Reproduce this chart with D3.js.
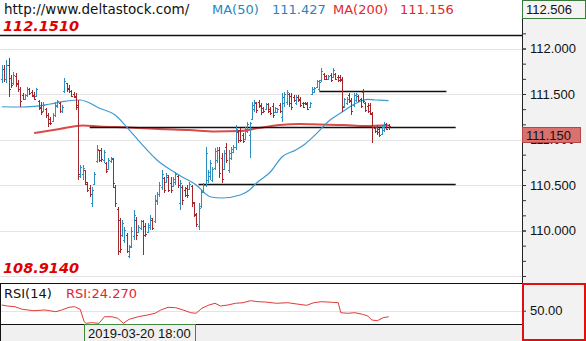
<!DOCTYPE html>
<html lang="en">
<head>
<meta charset="UTF-8">
<title>USDJPY bars</title>
<script src="https://d3js.org/d3.v7.min.js"></script>
<style>
    body { margin: 0; background: #fff; }
    svg { display: block; }
    .hdr { font-family: "DejaVu Sans", Verdana, sans-serif; font-size: 13px; }
    .ax text { font-family: "Liberation Sans", Arial, sans-serif; font-size: 13px; fill: #111; }
</style>
</head>
<body>
<div id="chart"></div>
<script>
// OHLC bars (one per bar, left to right)
const opens = [111.66,111.78,111.66,111.82,111.68,111.62,111.70,111.62,111.55,111.49,
111.45,111.49,111.55,111.52,111.49,111.48,111.42,111.36,111.31,111.34,
111.27,111.22,111.20,111.27,111.37,111.40,111.31,111.53,111.62,111.57,
111.53,111.50,111.48,111.38,110.60,110.62,110.66,110.51,110.47,110.30,
110.51,110.76,110.88,110.88,110.77,110.74,110.68,110.76,110.79,110.48,
110.24,110.12,109.95,109.90,109.95,109.72,109.83,109.94,110.12,109.98,
110.03,110.10,110.05,109.98,110.04,110.12,110.10,110.32,110.40,110.48,
110.58,110.53,110.59,110.52,110.49,110.53,110.60,110.30,110.48,110.45,
110.47,110.46,110.49,110.30,110.17,110.05,110.27,110.43,110.50,110.55,
110.60,110.56,110.69,110.77,110.89,110.80,110.68,110.92,110.66,110.80,
110.86,110.92,111.08,111.10,111.05,111.01,111.09,111.05,111.23,111.33,
111.40,111.41,111.38,111.35,111.33,111.39,111.34,111.37,111.30,111.30,
111.38,111.25,111.40,111.41,111.50,111.48,111.47,111.40,111.47,111.45,
111.40,111.40,111.40,111.36,111.50,111.52,111.58,111.56,111.65,111.72,
111.70,111.66,111.71,111.69,111.72,111.69,111.69,111.66,111.37,111.40,
111.49,111.43,111.38,111.43,111.48,111.44,111.52,111.40,111.37,111.38,
111.28,111.13,111.14,111.11,111.06,111.10,111.17,111.16];
const highs = [111.82,111.82,111.87,111.90,111.71,111.74,111.73,111.65,111.58,111.51,
111.50,111.58,111.57,111.54,111.52,111.57,111.43,111.41,111.41,111.35,
111.29,111.25,111.29,111.41,111.43,111.41,111.38,111.68,111.62,111.60,
111.54,111.52,111.51,111.43,110.72,110.72,110.67,110.53,110.50,110.48,
110.64,110.94,110.89,110.91,110.89,110.75,110.80,110.81,110.80,110.50,
110.26,110.14,110.12,110.04,109.97,109.84,110.04,110.23,110.15,110.06,
110.12,110.12,110.08,110.08,110.17,110.14,110.39,110.42,110.53,110.67,
110.59,110.63,110.61,110.59,110.59,110.64,110.61,110.56,110.50,110.48,
110.50,110.53,110.50,110.31,110.19,110.30,110.45,110.52,110.92,110.67,
110.78,110.70,110.91,110.92,110.92,110.85,110.89,110.96,110.89,110.92,
110.94,111.16,111.10,111.13,111.07,111.14,111.19,111.19,111.41,111.43,
111.41,111.43,111.40,111.36,111.40,111.40,111.36,111.40,111.36,111.35,
111.40,111.51,111.52,111.54,111.51,111.51,111.49,111.49,111.49,111.47,
111.41,111.41,111.41,111.41,111.58,111.58,111.65,111.65,111.79,111.73,
111.71,111.71,111.73,111.79,111.73,111.71,111.71,111.69,111.46,111.47,
111.51,111.46,111.51,111.51,111.49,111.46,111.56,111.41,111.40,111.40,
111.30,111.14,111.16,111.13,111.16,111.19,111.18,111.17];
const lows = [111.62,111.63,111.62,111.47,111.57,111.60,111.58,111.52,111.36,111.43,
111.43,111.47,111.49,111.47,111.43,111.47,111.32,111.27,111.30,111.24,
111.14,111.16,111.19,111.25,111.35,111.29,111.29,111.51,111.52,111.51,
111.47,111.46,111.32,110.56,110.58,110.56,110.50,110.42,110.37,110.26,
110.50,110.74,110.75,110.75,110.74,110.63,110.67,110.74,110.47,110.26,
109.73,109.75,109.93,109.86,109.75,109.70,109.81,109.90,109.90,109.97,
110.01,109.73,109.93,109.97,110.01,110.01,110.08,110.28,110.37,110.45,
110.41,110.52,110.42,110.41,110.48,110.50,110.47,110.23,110.28,110.37,
110.36,110.45,110.26,110.15,110.04,110.01,110.25,110.41,110.48,110.52,
110.56,110.53,110.67,110.74,110.58,110.52,110.67,110.74,110.63,110.78,
110.85,110.89,110.96,110.97,110.96,111.00,111.07,110.80,111.21,111.30,
111.29,111.35,111.27,111.29,111.32,111.29,111.27,111.24,111.29,111.29,
111.29,111.19,111.36,111.38,111.36,111.32,111.41,111.38,111.41,111.36,
111.35,111.38,111.32,111.35,111.49,111.51,111.57,111.52,111.63,111.65,
111.65,111.65,111.63,111.68,111.65,111.63,111.63,111.30,111.35,111.38,
111.40,111.27,111.36,111.41,111.41,111.35,111.40,111.30,111.29,111.27,
110.96,111.07,111.05,111.03,111.05,111.08,111.10,111.10];
const closes = [111.78,111.67,111.82,111.55,111.60,111.71,111.61,111.55,111.42,111.45,
111.49,111.55,111.51,111.48,111.45,111.55,111.35,111.30,111.38,111.27,
111.18,111.18,111.27,111.38,111.42,111.31,111.36,111.64,111.55,111.53,
111.48,111.47,111.36,110.62,110.70,110.69,110.53,110.44,110.40,110.45,
110.62,110.90,110.78,110.79,110.86,110.65,110.78,110.80,110.52,110.30,
109.78,109.80,110.08,110.01,109.78,109.82,110.00,110.17,109.95,110.04,
110.10,109.95,109.96,110.06,110.14,110.03,110.34,110.40,110.50,110.62,
110.45,110.61,110.45,110.44,110.57,110.62,110.50,110.52,110.33,110.39,
110.39,110.51,110.31,110.18,110.07,110.25,110.42,110.50,110.85,110.64,
110.74,110.68,110.87,110.89,110.63,110.57,110.85,110.78,110.85,110.90,
110.92,111.12,110.99,111.00,110.98,111.12,111.17,111.18,111.38,111.41,
111.32,111.37,111.30,111.31,111.39,111.31,111.29,111.27,111.35,111.34,
111.31,111.47,111.50,111.52,111.40,111.36,111.43,111.47,111.43,111.38,
111.36,111.39,111.34,111.40,111.56,111.57,111.64,111.63,111.75,111.67,
111.66,111.70,111.65,111.76,111.67,111.65,111.65,111.36,111.44,111.45,
111.42,111.31,111.49,111.50,111.43,111.37,111.42,111.32,111.31,111.29,
111.14,111.09,111.08,111.05,111.14,111.17,111.12,111.15];

// moving averages, read at bar positions
const ma50Idx = [0, 8, 14, 21, 27, 34, 37, 42, 49, 54, 60, 67, 73, 78, 84, 90, 95, 103, 107, 110, 116, 121, 127, 131, 136, 141, 147, 153, 158, 162, 167];
const ma50Val = [111.36, 111.357, 111.363, 111.39, 111.418, 111.434, 111.412, 111.346, 111.269, 111.137, 110.962, 110.775, 110.665, 110.588, 110.50, 110.371, 110.357, 110.39, 110.445, 110.522, 110.643, 110.808, 110.885, 110.951, 111.068, 111.198, 111.302, 111.398, 111.44, 111.434, 111.427];
const ma200Idx = [14, 25, 35, 42, 55, 68, 81, 92, 103, 111, 120, 129, 137, 148, 157, 167];
const ma200Val = [111.071, 111.115, 111.154, 111.143, 111.132, 111.115, 111.104, 111.088, 111.093, 111.126, 111.159, 111.17, 111.165, 111.159, 111.148, 111.156];

// RSI(14)
const rsiIdx = [0, 2.5, 5.7, 8.9, 13.8, 18.6, 23.4, 25.9, 29.1, 31.5, 33.9, 35.6, 36.4, 38.8, 42, 44.4, 47.6, 50.1, 52.5, 55, 59, 63, 66.2, 68.7, 71.8, 75.1, 78.3, 81.6, 83.9, 86.4, 89.5, 92.1, 94.5, 97.7, 100.9, 104.2, 107.4, 110.6, 113.8, 118.7, 123.5, 128.4, 131.6, 134.8, 138, 142.9, 145.3, 146.4, 149.3, 152.5, 155.8, 158.1, 159.8, 162.2, 164.7, 167.1];
const rsiVal = [62.8, 60.5, 59.0, 53.1, 50.0, 51.6, 47.8, 51.6, 57.6, 59.0, 53.1, 25.3, 21.7, 23.1, 21.7, 36.5, 36.5, 33.0, 21.7, 30.7, 36.5, 40.4, 44.2, 51.6, 57.6, 56.7, 51.6, 45.5, 44.2, 55.4, 62.8, 66.6, 60.5, 62.8, 66.6, 67.9, 72.4, 70.2, 69.5, 66.6, 67.9, 64.3, 62.1, 67.9, 70.2, 68.8, 67.9, 45.5, 44.2, 45.5, 41.9, 38.1, 29.1, 27.6, 34.3, 36.5];

// horizontal trend lines: price, start bar, end bar
const hlPrice = [112.151, 111.137, 111.538, 110.51];
const hlFrom = [-2, 38, 137, 85];
const hlTo = [226, 196, 192, 196];

const priceTicks = [110, 110.5, 111, 111.5, 112];
const gridTicks = [109.5, 110, 110.5, 111, 111.5, 112];
const minorTicks = d3.range(109.5, 112.5, 0.5 / 3);
const rsiTicks = [50];

const W = 586, H = 341;
const plotR = 522, priceBot = 283, rsiBot = 324;
const upCol = "#2d8ec2", dnCol = "#a3262c";

const svg = d3.select("#chart").append("svg")
    .attr("width", W).attr("height", H);

const x = d3.scaleLinear().domain([0, closes.length - 1]).range([1.7, 388.5]);
const y = d3.scaleLinear().domain([110, 112]).range([230.5, 48.5]);
const rsiY = d3.scaleLinear().domain([0, 100]).range([333, 288.4]);

svg.append("clipPath").attr("id", "pc").append("rect")
    .attr("x", 0).attr("y", 0).attr("width", plotR).attr("height", priceBot);
svg.append("clipPath").attr("id", "rc").append("rect")
    .attr("x", 0).attr("y", priceBot).attr("width", plotR).attr("height", rsiBot - priceBot);

// gridlines
const price = svg.append("g").attr("clip-path", "url(#pc)");
price.selectAll(".grid").data(gridTicks).join("line")
    .attr("x1", 0).attr("x2", plotR)
    .attr("y1", d => Math.round(y(d)) + 0.5).attr("y2", d => Math.round(y(d)) + 0.5)
    .attr("stroke", "#e4e4e4");

// MA lines
const ma200 = d3.zip(ma200Idx, ma200Val);
price.append("path").datum(ma200)
    .attr("fill", "none").attr("stroke", "#de4a4a").attr("stroke-width", 2)
    .attr("d", d3.line().x(d => x(d[0])).y(d => y(d[1])).curve(d3.curveMonotoneX));

// horizontal lines
price.selectAll(".hl").data(hlPrice).join("line")
    .attr("x1", (d, i) => x(hlFrom[i])).attr("x2", (d, i) => x(hlTo[i]))
    .attr("y1", d => Math.round(y(d)) + 0.5).attr("y2", d => Math.round(y(d)) + 0.5)
    .attr("stroke", "#111").attr("stroke-width", 1.3);

const ma50 = d3.zip(ma50Idx, ma50Val);
price.append("path").datum(ma50)
    .attr("fill", "none").attr("stroke", "#3f9ad0").attr("stroke-width", 1.2)
    .attr("d", d3.line().x(d => x(d[0])).y(d => y(d[1])).curve(d3.curveMonotoneX));

// OHLC bars
price.selectAll(".bar").data(closes).join("path")
    .attr("fill", "none")
    .attr("stroke", (c, i) => c >= opens[i] ? upCol : dnCol)
    .attr("stroke-width", 1)
    .attr("shape-rendering", "crispEdges")
    .attr("d", (c, i) => {
        const xi = Math.round(x(i)) + 0.5;
        return `M${xi},${y(highs[i])}V${y(lows[i])}` +
            `M${xi - 1.5},${Math.round(y(opens[i])) + 0.5}H${xi}` +
            `M${xi},${Math.round(y(c)) + 0.5}H${xi + 1.5}`;
    });

// RSI pane
const rsi = svg.append("g").attr("clip-path", "url(#rc)");
rsi.selectAll(".rg").data(rsiTicks).join("line")
    .attr("x1", 0).attr("x2", plotR)
    .attr("y1", d => Math.round(rsiY(d)) + 0.5).attr("y2", d => Math.round(rsiY(d)) + 0.5)
    .attr("stroke", "#e4e4e4");
rsi.append("path").datum(d3.zip(rsiIdx, rsiVal))
    .attr("fill", "none").attr("stroke", "#e23a3a").attr("stroke-width", 1)
    .attr("d", d3.line().x(d => x(d[0])).y(d => rsiY(d[1])));

// pane borders
svg.append("line").attr("x1", 0).attr("x2", plotR).attr("y1", priceBot + 0.5).attr("y2", priceBot + 0.5).attr("stroke", "#111");
svg.append("rect").attr("x", 0).attr("y", rsiBot).attr("width", plotR).attr("height", H - rsiBot).attr("fill", "#f0f0f0");
svg.append("line").attr("x1", 0).attr("x2", plotR).attr("y1", rsiBot + 0.5).attr("y2", rsiBot + 0.5).attr("stroke", "#111");
svg.append("line").attr("x1", 0.5).attr("x2", 0.5).attr("y1", priceBot).attr("y2", H).attr("stroke", "#111");

// date label on time axis
svg.append("rect").attr("x", 84.5).attr("y", rsiBot + 0.5).attr("width", 111).attr("height", 17)
    .attr("fill", "#f0f0f0").attr("stroke", "#3f8a3f");
svg.append("text").attr("x", 88).attr("y", 338)
    .attr("font-family", "Liberation Sans, Arial, sans-serif").attr("font-size", 13).attr("fill", "#111")
    .text("2019-03-20 18:00");

// right axis
svg.append("rect").attr("x", plotR).attr("y", 0).attr("width", W - plotR).attr("height", H).attr("fill", "#f2f2f2");
svg.append("line").attr("x1", plotR + 0.5).attr("x2", plotR + 0.5).attr("y1", 0).attr("y2", H).attr("stroke", "#222");

const axG = svg.append("g").attr("class", "ax").attr("transform", `translate(${plotR},0)`);
axG.call(d3.axisRight(y).tickValues(minorTicks.filter(d => y(d) > 20 && y(d) < priceBot)).tickSize(4).tickFormat(""));
axG.append("g").call(d3.axisRight(y).tickValues(priceTicks).tickSize(4).tickPadding(4).tickFormat(d3.format(".3f")));
axG.selectAll(".domain").remove();
axG.selectAll("line").attr("stroke", "#333");

// top-of-range label
svg.append("rect").attr("x", plotR + 0.5).attr("y", 0.5).attr("width", W - plotR - 1).attr("height", 18)
    .attr("fill", "#f4f4f4").attr("stroke", "#3a7a3a");
svg.append("text").attr("x", plotR + 4).attr("y", 14)
    .attr("font-family", "Liberation Sans, Arial, sans-serif").attr("font-size", 13).attr("fill", "#111")
    .text("112.506");

// last price marker
const last = closes[closes.length - 1];
svg.append("rect").attr("x", plotR + 0.5).attr("y", Math.round(y(last)) + 1.5).attr("width", 58).attr("height", 15)
    .attr("fill", "#d9726f").attr("stroke", "#b84545");
svg.append("text").attr("x", plotR + 4).attr("y", Math.round(y(last)) + 13.5)
    .attr("font-family", "Liberation Sans, Arial, sans-serif").attr("font-size", 13).attr("fill", "#111")
    .text(d3.format(".3f")(last));

// RSI axis box
const rAx = svg.append("g").attr("class", "ax").attr("transform", `translate(${plotR},0)`);
rAx.call(d3.axisRight(rsiY).tickValues(rsiTicks).tickSize(4).tickPadding(4).tickFormat(d3.format(".2f")));
rAx.selectAll(".domain").remove();
rAx.selectAll("line").attr("stroke", "#333");
svg.append("rect").attr("x", plotR + 1).attr("y", priceBot + 1).attr("width", W - plotR - 2).attr("height", H - priceBot - 2)
    .attr("fill", "none").attr("stroke", "#e01010").attr("stroke-width", 2);

// header texts
const hdr = svg.append("g").attr("class", "hdr");
hdr.append("text").attr("x", 4).attr("y", 14).attr("fill", "#111").attr("font-size", 13.5).text("http://www.deltastock.com/");
hdr.append("text").attr("x", 212).attr("y", 14).attr("fill", "#1f86c4").text("MA(50)");
hdr.append("text").attr("x", 272).attr("y", 14).attr("fill", "#1f86c4").text("111.427");
hdr.append("text").attr("x", 333).attr("y", 14).attr("fill", "#e3262a").text("MA(200)");
hdr.append("text").attr("x", 400).attr("y", 14).attr("fill", "#e3262a").text("111.156");
hdr.append("text").attr("x", 3).attr("y", 31).attr("fill", "#e00000")
    .attr("font-size", 14.5).attr("font-weight", "bold").attr("font-style", "italic").text("112.1510");
hdr.append("text").attr("x", 3).attr("y", 273).attr("fill", "#e00000")
    .attr("font-size", 14.5).attr("font-weight", "bold").attr("font-style", "italic").text("108.9140");
hdr.append("text").attr("x", 4).attr("y", 298).attr("fill", "#111").text("RSI(14)");
hdr.append("text").attr("x", 66).attr("y", 298).attr("fill", "#e3262a").text("RSI:24.270");
</script>
</body>
</html>
